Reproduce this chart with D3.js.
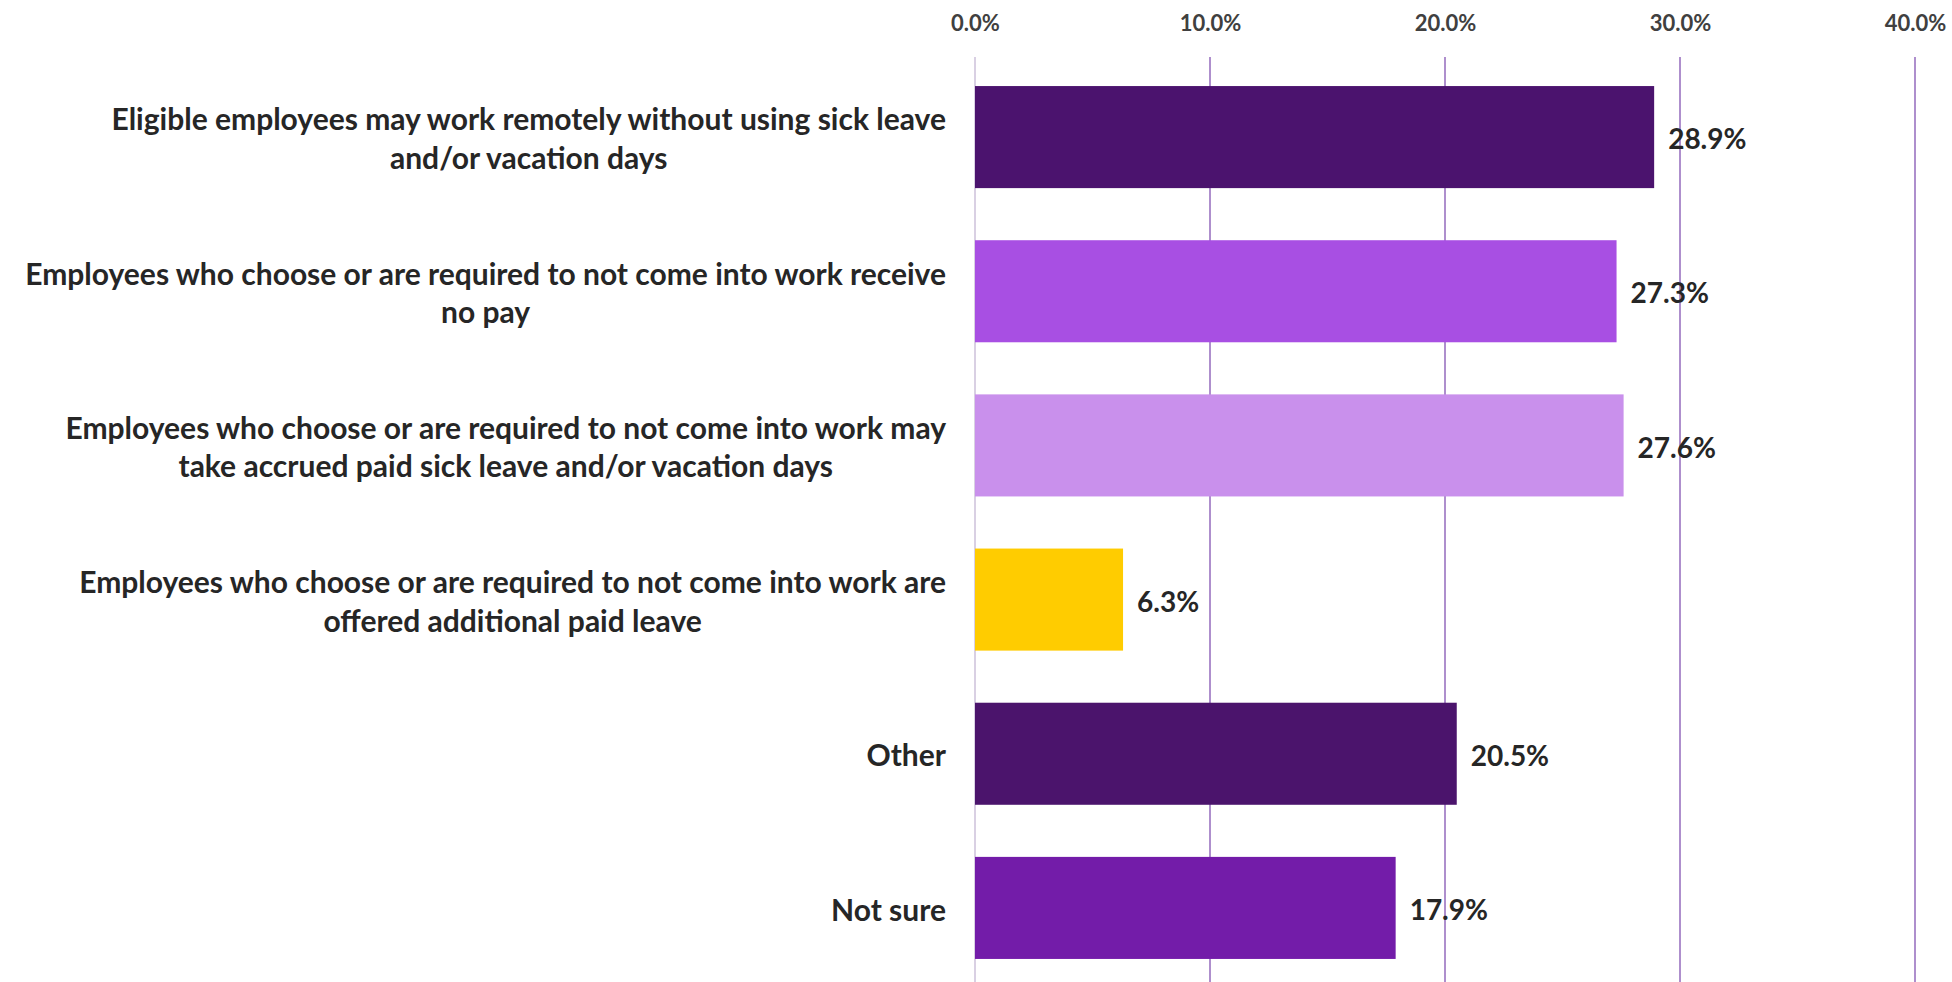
<!DOCTYPE html>
<html>
<head>
<meta charset="utf-8">
<script src="https://cdn.jsdelivr.net/npm/d3@7"></script>
<style>
  html, body { margin: 0; padding: 0; background: #ffffff; }
  svg { display: block; }
</style>
</head>
<body>
<svg id="chart" width="1952" height="982"></svg>
<script>
// ---- data ----
const categories = [
  "Eligible employees may work remotely without using sick leave\nand/or vacation days",
  "Employees who choose or are required to not come into work receive\nno pay",
  "Employees who choose or are required to not come into work may\ntake accrued paid sick leave and/or vacation days",
  "Employees who choose or are required to not come into work are\noffered additional paid leave",
  "Other",
  "Not sure"
];
const values = [28.9, 27.3, 27.6, 6.3, 20.5, 17.9];
const barColors = ["#4b136e", "#a84fe3", "#c990ec", "#ffcc00", "#4b146c", "#731ca9"];
const tickValues = [0, 10, 20, 30, 40];
const tickLabels = ["0.0%", "10.0%", "20.0%", "30.0%", "40.0%"];

// ---- layout ----
const svg = d3.select("#chart");
const font = "Lato, 'Open Sans', sans-serif";

const x = d3.scaleLinear().domain([0, 40]).range([975, 1915]);
const y = d3.scaleBand().domain(categories).range([60, 985])
  .paddingInner(0.338).paddingOuter(0.169);

// gridlines
svg.append("g").selectAll("line")
  .data(tickValues)
  .join("line")
  .attr("x1", d => x(d)).attr("x2", d => x(d))
  .attr("y1", 57).attr("y2", 982)
  .attr("stroke", d => d === 0 ? "#d9d0e3" : "#ae8fcd")
  .attr("stroke-width", 2);

// top axis
const axis = d3.axisTop(x).tickValues(tickValues)
  .tickFormat((d, i) => tickLabels[i]).tickSize(0).tickPadding(0);
const axG = svg.append("g").attr("transform", "translate(0,31)").call(axis);
axG.select(".domain").remove();
axG.selectAll("text")
  .attr("font-family", font).attr("font-size", 22).attr("font-weight", 700)
  .attr("fill", "#404040");

// bars
svg.append("g").selectAll("rect")
  .data(values)
  .join("rect")
  .attr("x", x(0))
  .attr("y", (d, i) => y(categories[i]))
  .attr("width", d => x(d) - x(0))
  .attr("height", y.bandwidth())
  .attr("fill", (d, i) => barColors[i]);

// value labels
svg.append("g").selectAll("text")
  .data(values)
  .join("text")
  .attr("x", d => x(d) + 14)
  .attr("y", (d, i) => y(categories[i]) + y.bandwidth() / 2 + 5)
  .attr("dominant-baseline", "middle")
  .attr("font-family", font).attr("font-size", 28).attr("font-weight", 700)
  .attr("fill", "#262626")
  .text(d => d.toFixed(1) + "%");

// category labels (lines centered to each other, block right-aligned)
const labelRight = 946;
const lineGap = 38.6;
categories.forEach(cat => {
  const lines = cat.split("\n");
  const cy = y(cat) + y.bandwidth() / 2;
  const g = svg.append("g");
  const texts = lines.map((ln, j) => g.append("text")
    .attr("y", cy + (j - (lines.length - 1) / 2) * lineGap + 5)
    .attr("dominant-baseline", "middle")
    .attr("text-anchor", "middle")
    .attr("font-family", font).attr("font-size", 30).attr("font-weight", 700)
    .attr("fill", "#262626")
    .text(ln));
  const maxW = d3.max(texts, t => t.node().getComputedTextLength());
  texts.forEach(t => t.attr("x", labelRight - maxW / 2));
});
</script>
</body>
</html>
